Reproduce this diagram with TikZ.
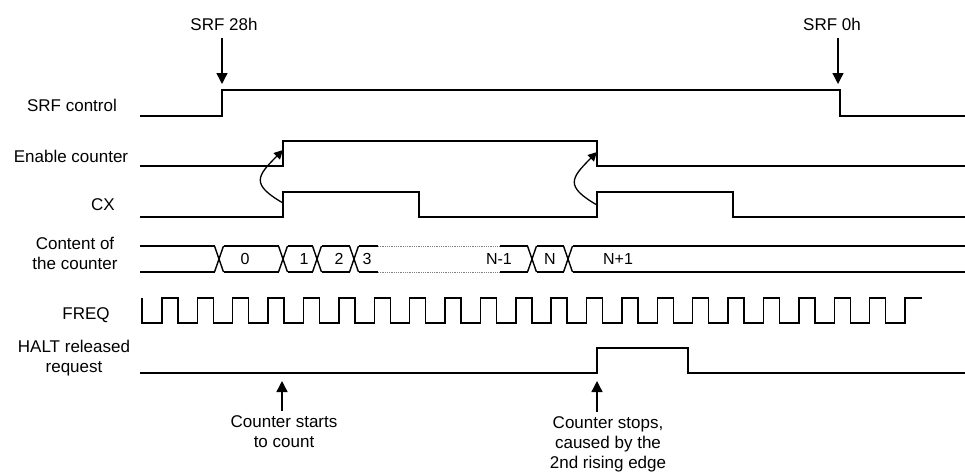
\documentclass[tikz,border=0pt]{standalone}
\usepackage{fontspec}
\setmainfont{Liberation Sans}
\usetikzlibrary{arrows.meta}
\tikzstyle{sig} = [line width=1.4pt, line join=miter]
\tikzstyle{dots} = [line width=0.8pt, gray, densely dotted]
\tikzstyle{arrow} = [line width=1.4pt, -{Triangle[length=11pt,width=11pt]}]
\tikzstyle{bendarrow} = [line width=1.3pt, -{Triangle[length=9pt,width=9pt]}]
\tikzstyle{lbl} = [inner sep=0pt, anchor=base, align=center, font=\fontsize{17}{20}\selectfont]
\tikzstyle{val} = [inner sep=0pt, font=\fontsize{16}{19}\selectfont]

\begin{document}
\begin{tikzpicture}[x=1pt, y=-1pt]
	\useasboundingbox (0,0) rectangle (965,471);
	% signal names (base = last line)
	\node (lsrf) [lbl] at (72,111) {SRF control};
	\node (len) [lbl] at (71,162) {Enable counter};
	\node (lcx) [lbl] at (103,210) {CX};
	\node (lcnt) [lbl] at (75,269) {Content of\\the counter};
	\node (lfreq) [lbl] at (86,319) {FREQ};
	\node (lhalt) [lbl] at (74,372) {HALT released\\request};
	% edges that the arrows point at
	\coordinate (srfup) at (222,84);
	\coordinate (srfdown) at (838,84);
	\coordinate (cxup1) at (283,203);
	\coordinate (enup1) at (283,150);
	\coordinate (cxup2) at (597,205);
	\coordinate (enup2) at (597,152);
	\coordinate (tstart) at (282,381);
	\coordinate (tstop) at (597,381);
	% waveforms
	\draw [sig] (140,116) -- (222,116) -- (222,90) -- (840,90) -- (840,116) -- (965,116);
	\draw [sig] (140,166) -- (283,166) -- (283,141) -- (597,141) -- (597,166) -- (965,166);
	\draw [sig] (140,217) -- (283,217) -- (283,192) -- (419,192) -- (419,217) -- (597,217)
		-- (597,192) -- (733,192) -- (733,217) -- (965,217);
	\draw [sig] (142,298) -- (142,323) \foreach \k in {0,...,20} {
		-- ({162+35.38*\k},323) -- ({162+35.38*\k},298) -- ({178+35.38*\k},298) -- ({178+35.38*\k},323) }
		-- (905,323) -- (905,298) -- (922,298);
	\draw [sig] (140,373) -- (597,373) -- (597,348) -- (688,348) -- (688,373) -- (965,373);
	% counter bus
	\foreach \a/\b in {140/214.5, 223.5/278.5, 287.5/312.5, 321.5/349.5, 358.5/378, 500/527.5, 536.5/563.5, 572.5/965} {
		\draw [sig] (\a,246) -- (\b,246);
		\draw [sig] (\a,272) -- (\b,272);
	}
	\foreach \x in {219,283,317,354,532,568} {
		\draw [sig] ({\x-4.5},246) -- ({\x+4.5},272);
		\draw [sig] ({\x-4.5},272) -- ({\x+4.5},246);
	}
	\draw [dots] (378,246) -- (500,246);
	\draw [dots] (378,272) -- (500,272);
	\node (v0) [val] at (245,259) {0};
	\node (v1) [val] at (304,259) {1};
	\node (v2) [val] at (339,259) {2};
	\node (v3) [val] at (367,259) {3};
	\node (vn1) [val] at (499,259) {N-1};
	\node (vn) [val] at (550,259) {N};
	\node (vnp) [val] at (618,259) {N+1};
	% register writes
	\node (srf28) [lbl] at (224,30) {SRF 28h};
	\node (srf0) [lbl] at (832,30) {SRF 0h};
	\draw [arrow] ([yshift=-8pt]srf28.south -| srfup) -- (srfup);
	\draw [arrow] ([yshift=-8pt]srf0.south -| srfdown) -- (srfdown);
	% CX edges enable the counter
	\draw [bendarrow] (cxup1) to[out=150, in=225, looseness=1.8] (enup1);
	\draw [bendarrow] (cxup2) to[out=150, in=225, looseness=1.8] (enup2);
	% notes
	\node (nstart) [lbl] at (284,447) {Counter starts\\to count};
	\node (nstop) [lbl] at (608,468) {Counter stops,\\caused by the\\2nd rising edge};
	\draw [arrow] ([yshift=4pt]nstart.north -| tstart) -- (tstart);
	\draw [arrow] ([yshift=4pt]nstop.north -| tstop) -- (tstop);
\end{tikzpicture}
\end{document}
